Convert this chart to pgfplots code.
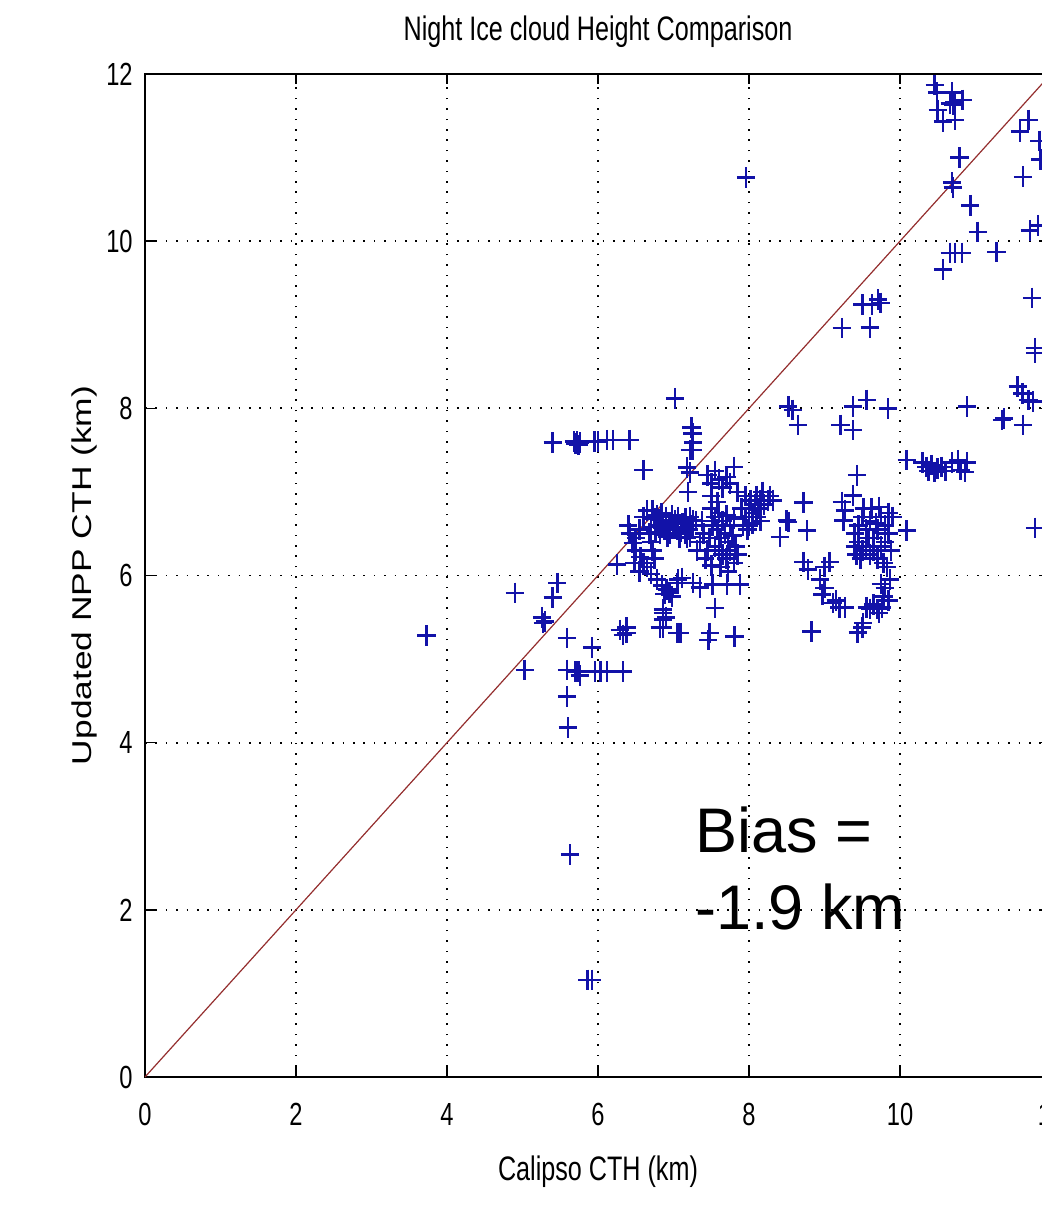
\documentclass[border=0pt]{standalone}
\usepackage{fontspec}
\setmainfont{Liberation Sans}
\newfontfamily\condfont[FakeStretch=0.74]{Liberation Sans}
\newfontfamily\widefont[FakeStretch=1.3]{Liberation Sans}
\usepackage{pgfplots}
\pgfplotsset{compat=1.18}
\definecolor{mkblue}{rgb}{0.07,0.07,0.66}
\definecolor{diagred}{rgb}{0.58,0.18,0.18}
\begin{document}
\begin{tikzpicture}
\clip (-72.5pt,-67pt) rectangle (448.5pt,538.5pt);
\begin{axis}[
  scale only axis,
  width=453pt, height=501.5pt,
  xmin=0, xmax=12, ymin=0, ymax=12,
  xtick={0,2,...,12}, ytick={0,2,...,12},
  axis line style={black, line width=1pt},
  tick style={black, line width=0.8pt},
  major tick length=5pt,
  tick align=inside,
  grid=major,
  major grid style={black, line width=0.9pt, dash pattern=on 0.8pt off 4.4pt},
  /pgf/number format/assume math mode=true,
  ticklabel style={font=\condfont\fontsize{16}{18}\selectfont},
  xticklabel style={anchor=base, yshift=-24pt, inner sep=0pt},
  yticklabel style={anchor=east, xshift=-6pt, inner sep=0pt},
  title={Night Ice cloud Height Comparison},
  title style={font=\condfont\fontsize{17}{19}\selectfont, anchor=base, at={(axis description cs:0.5,1.0219)}, inner sep=0pt},
  xlabel={Calipso CTH (km)},
  xlabel style={font=\condfont\fontsize{17}{19}\selectfont, anchor=base, at={(axis description cs:0.5,-0.1027)}, inner sep=0pt},
  ylabel={Updated NPP CTH (km)},
  ylabel style={font=\widefont\fontsize{13.6}{15}\selectfont, anchor=base, rotate=0, at={(axis description cs:-0.0585,0.5)}, inner sep=0pt},
]
\addplot[diagred, line width=0.6pt] coordinates {(0,0) (12,12)};
\addplot[only marks, mark=+, mark size=4.6pt, mkblue, mark options={line width=1.3pt, yscale=1.12}] table {
x y
3.73 5.28
4.90 5.79
5.03 4.87
5.40 7.59
5.68 7.60
5.70 7.58
5.72 7.60
5.74 7.56
5.76 7.59
5.95 7.60
6.00 7.60
6.12 7.62
6.20 7.62
6.42 7.62
6.60 7.26
5.46 5.91
5.40 5.74
5.26 5.50
5.27 5.43
5.30 5.45
5.59 5.25
5.92 5.14
5.59 4.87
5.70 4.85
5.74 4.85
5.76 4.80
5.96 4.85
6.03 4.85
6.12 4.85
6.33 4.85
5.59 4.55
5.60 4.18
5.63 2.66
5.86 1.16
5.92 1.16
6.25 6.13
6.38 5.38
6.38 5.31
6.29 5.35
6.33 5.29
7.02 8.12
7.24 7.77
7.25 7.70
7.26 7.59
7.25 7.50
7.22 7.50
7.18 7.29
7.19 7.00
7.22 7.23
7.96 10.76
6.72 6.78
6.78 6.72
6.85 6.65
6.90 6.70
6.95 6.62
7.00 6.58
7.05 6.55
7.10 6.52
7.15 6.50
7.20 6.55
7.25 6.60
7.30 6.65
6.80 6.60
6.88 6.55
6.95 6.50
6.75 6.68
7.02 6.66
7.12 6.62
7.18 6.45
7.08 6.45
6.92 6.47
6.82 6.50
6.70 6.58
6.76 6.52
6.84 6.75
6.98 6.72
7.06 6.70
7.16 6.68
7.22 6.70
6.42 6.50
6.46 6.39
6.50 6.30
6.56 6.22
6.60 6.15
6.65 6.10
6.70 6.02
6.78 5.95
6.85 5.88
6.91 5.83
6.98 5.75
6.95 5.80
7.05 5.91
6.88 5.78
6.86 5.55
6.86 5.38
6.90 5.50
7.09 5.31
6.40 6.60
6.50 6.45
6.55 6.55
6.60 6.70
6.65 6.78
6.55 6.05
6.48 6.15
6.70 6.40
6.72 6.30
6.75 6.20
6.68 6.50
7.22 6.46
7.26 6.66
7.31 6.30
7.06 5.95
7.11 5.97
7.26 5.91
7.35 5.86
7.52 5.89
7.71 5.89
7.88 5.89
7.55 5.61
7.48 5.31
7.46 5.23
7.81 5.27
6.82 5.38
6.86 5.47
7.05 5.31
6.86 5.59
7.45 7.20
7.50 7.10
7.55 7.25
7.60 7.15
7.65 7.05
7.70 7.18
7.75 7.10
7.80 7.30
7.85 7.00
7.50 6.95
7.58 6.88
7.50 6.80
7.55 6.70
7.60 6.75
7.65 6.65
7.70 6.72
7.75 6.60
7.80 6.68
7.52 6.60
7.58 6.55
7.62 6.45
7.68 6.50
7.72 6.40
7.78 6.48
7.82 6.35
7.48 6.45
7.55 6.35
7.60 6.30
7.65 6.25
7.70 6.20
7.75 6.30
7.80 6.15
7.85 6.25
7.45 6.30
7.40 6.50
7.38 6.65
7.42 6.20
7.50 6.12
7.62 6.10
7.72 6.05
7.35 6.40
7.92 6.60
7.95 6.70
8.00 6.80
8.02 6.90
8.05 6.75
8.08 6.85
8.10 6.95
8.12 6.80
8.15 6.90
8.18 7.00
8.20 6.85
8.25 6.90
8.00 6.60
7.98 6.55
8.05 6.62
8.10 6.70
7.90 6.80
7.95 6.95
8.28 6.95
8.15 6.65
8.32 6.90
8.41 6.46
8.50 6.66
8.72 6.87
8.52 6.64
8.77 6.54
8.72 6.16
8.78 6.07
9.07 6.16
9.00 6.10
8.94 5.95
8.97 5.77
9.00 5.85
9.11 5.67
9.15 5.70
9.20 5.62
9.27 5.62
8.83 5.33
9.40 6.50
9.45 6.60
9.50 6.70
9.55 6.55
9.60 6.65
9.65 6.45
9.70 6.55
9.75 6.70
9.80 6.60
9.85 6.75
9.45 6.40
9.50 6.30
9.55 6.35
9.60 6.25
9.65 6.30
9.70 6.20
9.75 6.35
9.80 6.40
9.85 6.50
9.40 6.35
9.58 6.45
9.68 6.62
9.52 6.80
9.62 6.80
9.72 6.82
9.90 6.70
9.48 6.20
9.78 6.15
9.88 6.30
9.42 6.25
9.83 6.10
9.87 5.95
9.75 5.90
9.80 5.85
9.56 5.62
9.60 5.60
9.65 5.65
9.70 5.60
9.76 5.62
9.72 5.55
9.51 5.43
9.44 5.32
9.50 5.38
9.85 5.70
9.78 5.75
9.43 7.20
9.38 6.96
9.23 6.88
9.25 6.66
9.27 6.78
10.09 6.54
8.52 8.02
8.58 7.98
8.65 7.80
9.21 7.80
9.38 8.02
9.38 7.74
9.56 8.10
9.84 8.00
9.23 8.96
9.50 9.24
9.63 9.24
9.71 9.30
9.74 9.26
9.60 8.97
10.09 7.38
10.30 7.35
10.35 7.30
10.38 7.25
10.42 7.32
10.46 7.24
10.50 7.28
10.55 7.30
10.60 7.25
10.69 7.35
10.77 7.38
10.86 7.24
10.89 7.35
10.80 7.26
10.89 8.02
11.35 7.86
11.38 7.88
11.56 8.26
11.62 8.18
11.70 8.10
11.76 8.08
11.63 7.80
11.79 8.72
11.79 6.57
10.46 11.87
10.49 11.78
10.69 11.78
10.66 11.65
10.70 11.63
10.72 11.66
10.83 11.69
10.50 11.57
10.57 11.43
10.73 11.45
10.79 11.00
10.69 10.70
10.70 10.64
10.93 10.43
11.03 10.11
10.66 9.86
10.73 9.86
10.82 9.86
10.57 9.66
11.28 9.87
11.59 11.31
11.70 11.45
11.63 10.77
11.72 10.13
11.83 10.19
11.75 9.32
11.79 8.66
11.85 11.20
11.86 10.98
};
\node[anchor=base west, align=left, inner sep=0pt, font=\fontsize{31.5}{38.5}\selectfont] at (axis cs:7.28,1.76) {Bias =\\-1.9 km};
\end{axis}
\end{tikzpicture}
\end{document}
